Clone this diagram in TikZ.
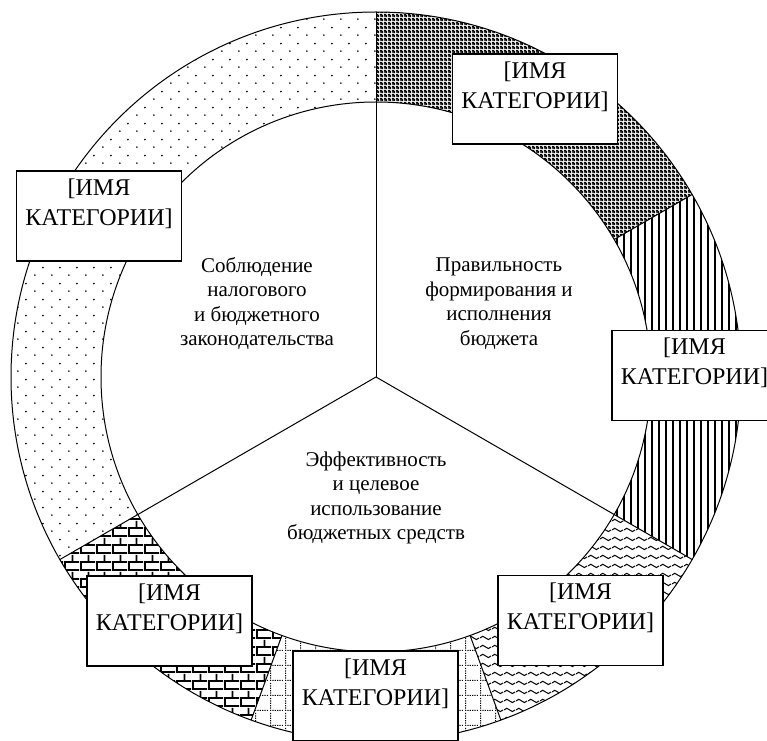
\documentclass[tikz,border=0pt]{standalone}
\usepackage{fontspec}
\setmainfont{Liberation Serif}
\usetikzlibrary{patterns.meta}

% fill patterns for the parts of the outer ring
\tikzdeclarepattern{
  name=sparsedots, type=uncolored,
  bottom left={(0pt,0pt)}, top right={(17pt,16pt)}, tile size={(17pt,16pt)},
  code={\fill (2pt,2pt) circle[radius=1pt];
        \fill (10.5pt,10pt) circle[radius=1pt];}
}
\tikzdeclarepattern{
  name=lattice, type=uncolored,
  bottom left={(0pt,0pt)}, top right={(4pt,4pt)}, tile size={(4pt,4pt)},
  code={\fill[even odd rule] (0pt,0pt) rectangle (4pt,4pt)
        (0.4pt,0.4pt) rectangle (1.6pt,1.6pt)
        (2.4pt,2.4pt) rectangle (3.6pt,3.6pt);}
}
\tikzdeclarepattern{
  name=waves, type=uncolored,
  bottom left={(0pt,0pt)}, top right={(12pt,9pt)}, tile size={(12pt,9pt)},
  code={\draw[line width=1.1pt] (0pt,4.5pt) sin (3pt,6.3pt) cos (6pt,4.5pt)
        sin (9pt,2.7pt) cos (12pt,4.5pt);}
}
\tikzdeclarepattern{
  name=dotgrid, type=uncolored,
  bottom left={(0pt,0pt)}, top right={(15pt,15pt)}, tile size={(15pt,15pt)},
  code={\foreach \i in {0,...,5}{
          \fill (\i*2.5pt,0pt) rectangle ++(1.3pt,1.3pt);
          \fill (0pt,\i*2.5pt) rectangle ++(1.3pt,1.3pt);}}
}
\tikzdeclarepattern{
  name=brickwall, type=uncolored,
  bottom left={(0pt,0pt)}, top right={(16pt,17pt)}, tile size={(16pt,17pt)},
  code={\fill (0pt,0pt) rectangle (16pt,2pt);
        \fill (0pt,8.5pt) rectangle (16pt,10.5pt);
        \fill (0pt,0pt) rectangle (2pt,8.5pt);
        \fill (8pt,8.5pt) rectangle (10pt,17pt);}
}

% path of one part of the ring, between two angles
\newcommand\ringpath[2]{%
  ([shift={(#1:275)}]C) arc[start angle=#1, end angle=#2, radius=275]
  -- ([shift={(#2:365)}]C) arc[start angle=#2, end angle=#1, radius=365]
  -- cycle}
\newcommand\ringpart[3]{%
  \path[pattern=#3, pattern color=black] \ringpath{#1}{#2};}

\begin{document}
\begin{tikzpicture}[x=1pt,y=1pt,
  catbox/.style={draw, line width=1.2pt, fill=white, minimum width=165pt,
    minimum height=90pt, inner sep=0pt},
  cattext/.style={font=\fontsize{24}{30}\selectfont, align=center,
    anchor=north, inner sep=0pt},
  sectortext/.style={font=\fontsize{21}{24.5}\selectfont, align=center,
    inner sep=0pt}]
\fill[white] (0,0) rectangle (767,740);
\clip (0,0) rectangle (767,740);
\coordinate (C) at (376,363);

% outer ring
\ringpart{90}{210}{sparsedots}
\ringpart{210}{250}{brickwall}
\ringpart{250}{290}{dotgrid}
\ringpart{290}{330}{waves}
\ringpart{30}{90}{lattice}
\begin{scope}
  \clip \ringpath{-30}{30};
  \foreach \x in {603,610,...,745}
    \draw[line width=1.6pt] (\x,170) -- (\x,560);
\end{scope}
\draw[line width=1pt] (C) circle[radius=365];
\draw[line width=1pt] (C) circle[radius=275];
\foreach \a in {30,90,210,250,290,330}
  \draw[line width=1pt] ([shift={(\a:275)}]C) -- ([shift={(\a:365)}]C);

% three inner sectors
\foreach \a in {90,210,330}
  \draw[line width=1pt] (C) -- ([shift={(\a:275)}]C);

\node[sectortext] (s1) at (257,436.5)
  {Соблюдение\\налогового\\и бюджетного\\законодательства};
\node[sectortext] (s2) at (499,436.5)
  {Правильность\\формирования и\\исполнения\\бюджета};
\node[sectortext] (s3) at (376,242)
  {Эффективность\\и целевое\\использование\\бюджетных средств};

% category labels
\node[catbox] (b1) at (535,641) {};
\node[cattext] (t1) at ([yshift=-8pt]b1.north) {[ИМЯ\\КАТЕГОРИИ]};
\node[catbox] (b2) at (694.5,364.5) {};
\node[cattext] (t2) at ([yshift=-8pt]b2.north) {[ИМЯ\\КАТЕГОРИИ]};
\node[catbox] (b3) at (580.5,119.5) {};
\node[cattext] (t3) at ([yshift=-8pt]b3.north) {[ИМЯ\\КАТЕГОРИИ]};
\node[catbox] (b4) at (375.5,44) {};
\node[cattext] (t4) at ([yshift=-8pt]b4.north) {[ИМЯ\\КАТЕГОРИИ]};
\node[catbox] (b5) at (169.5,119) {};
\node[cattext] (t5) at ([yshift=-8pt]b5.north) {[ИМЯ\\КАТЕГОРИИ]};
\node[catbox] (b6) at (99,524) {};
\node[cattext] (t6) at ([yshift=-8pt]b6.north) {[ИМЯ\\КАТЕГОРИИ]};
\end{tikzpicture}
\end{document}
